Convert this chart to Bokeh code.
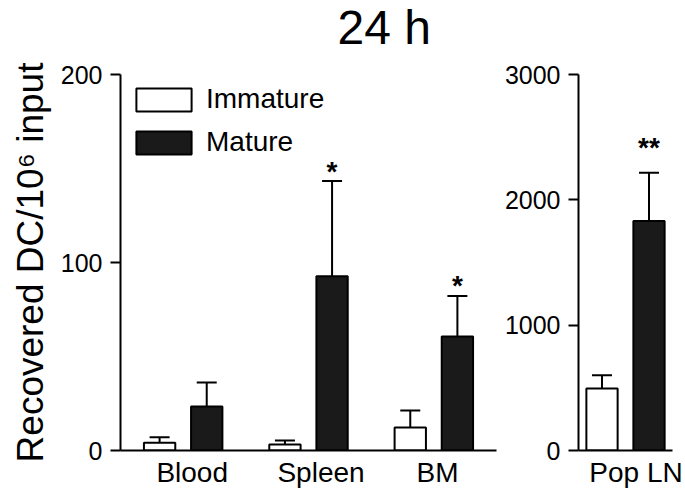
from bokeh.plotting import figure
from bokeh.models import (Range1d, FixedTicker, Whisker, ColumnDataSource, Legend,
                          LegendItem, Title, TeeHead)
from bokeh.layouts import row, column
from bokeh.embed import file_html
from bokeh.resources import INLINE
from bokeh.core.properties import value

# ---------------- data ----------------
categories = ["Blood", "Spleen", "BM"]
immature = [4.1, 3.2, 12.3]
immature_err = [3.0, 2.1, 9.0]
mature = [23.4, 92.7, 60.7]
mature_err = [12.8, 50.6, 21.5]
stars = ["", "*", "*"]

ln_categories = ["Pop LN"]
ln_immature = [494]
ln_immature_err = [106]
ln_mature = [1832]
ln_mature_err = [384]
ln_stars = ["**"]

left_ticks = [0, 100, 200]
right_ticks = [0, 1000, 2000, 3000]

# ---------------- layout / style ----------------
FONT = "Liberation Sans"
BAR_W = 0.25
DODGE = 0.188
TITLE_H = 60
HEIGHT = 496 - TITLE_H


def make_panel(cats, imm, imm_err, mat, mat_err, stars_, ymax, ticks, label_shift,
               width, border_left, border_right, half, star_offset, ylabel=None):
    n = len(cats)
    xs = list(range(n))
    x_imm = [x - DODGE for x in xs]
    x_mat = [x + DODGE for x in xs]
    src = ColumnDataSource(dict(
        x_imm=x_imm, x_mat=x_mat, imm=imm, mat=mat,
        imm_top=[v + e for v, e in zip(imm, imm_err)],
        mat_top=[v + e for v, e in zip(mat, mat_err)],
        stars=stars_,
    ))
    p = figure(width=width, height=HEIGHT, output_backend="svg", toolbar_location=None,
               x_range=Range1d(-half, n - 1 + half), y_range=Range1d(0, ymax),
               min_border_left=border_left, min_border_right=border_right,
               min_border_top=74 - TITLE_H, min_border_bottom=46)
    p.outline_line_color = None
    p.xgrid.visible = False
    p.ygrid.visible = False
    p.background_fill_color = "white"
    p.border_fill_color = "white"

    r_imm = p.vbar(x="x_imm", top="imm", width=BAR_W, source=src,
                   fill_color="white", line_color="black", line_width=2)
    r_mat = p.vbar(x="x_mat", top="mat", width=BAR_W, source=src,
                   fill_color="#1a1a1a", line_color="black", line_width=2)
    for xcol, lo, hi in (("x_imm", "imm", "imm_top"), ("x_mat", "mat", "mat_top")):
        w = Whisker(source=src, base=xcol, lower=lo, upper=hi, dimension="height",
                    line_color="black", line_width=2, lower_head=None,
                    upper_head=TeeHead(size=20, line_color="black", line_width=2))
        p.add_layout(w)
    p.text(x="x_mat", y="mat_top", text="stars", source=src, text_align="center",
           text_baseline="alphabetic", y_offset=star_offset,
           text_font=value(FONT), text_font_size="28px", text_font_style="bold",
           text_color="black")

    # axes
    p.yaxis.ticker = FixedTicker(ticks=ticks)
    p.yaxis.minor_tick_line_color = None
    p.yaxis.major_tick_in = 0
    p.yaxis.major_tick_out = 10
    p.yaxis.major_tick_line_width = 2
    p.yaxis.axis_line_width = 2
    p.yaxis.major_label_standoff = 8
    p.yaxis.major_label_text_font = FONT
    p.yaxis.major_label_text_font_size = "25px"
    p.yaxis.major_label_text_color = "black"

    p.xaxis.ticker = FixedTicker(ticks=[x + s for x, s in zip(xs, label_shift)])
    p.xaxis.major_label_overrides = {x + s: c for x, s, c in zip(xs, label_shift, cats)}
    p.xaxis.minor_tick_line_color = None
    p.xaxis.major_tick_line_color = None
    p.xaxis.major_tick_in = 0
    p.xaxis.major_tick_out = 0
    p.xaxis.axis_line_width = 2
    p.xaxis.major_label_standoff = 6
    p.xaxis.major_label_text_font = FONT
    p.xaxis.major_label_text_font_size = "28px"
    p.xaxis.major_label_text_color = "black"

    if ylabel:
        p.yaxis.axis_label = ylabel
        p.yaxis.axis_label_text_font = FONT
        p.yaxis.axis_label_text_font_size = "37px"
        p.yaxis.axis_label_text_font_style = "normal"
        p.yaxis.axis_label_text_color = "black"
        p.yaxis.axis_label_standoff = 7
    return p, r_imm, r_mat


p1, r_imm, r_mat = make_panel(categories, immature, immature_err, mature, mature_err, stars,
                              200, left_ticks, [0.072, 0.10, 0.03],
                              500, 120, 4, 0.5, -10, ylabel="Recovered DC/10\u2076 input")
p2, _, _ = make_panel(ln_categories, ln_immature, ln_immature_err, ln_mature, ln_mature_err,
                      ln_stars, 3000, right_ticks, [0.084],
                      185, 78, 13, 0.376, -25)

legend = Legend(items=[LegendItem(label="Immature", renderers=[r_imm]),
                       LegendItem(label="Mature", renderers=[r_mat])],
                location="top_left", margin=9, padding=8, spacing=11,
                glyph_width=69, glyph_height=29, label_standoff=8,
                label_text_font=FONT, label_text_font_size="28px",
                label_text_color="black",
                border_line_color=None, background_fill_alpha=0)
p1.add_layout(legend)

# title strip: a frameless figure carrying only the title
tf = figure(width=685, height=TITLE_H, output_backend="svg", toolbar_location=None,
            x_axis_location=None, y_axis_location=None,
            x_range=Range1d(0, 1), y_range=Range1d(0, 1),
            min_border_left=0, min_border_right=0, min_border_top=0, min_border_bottom=0)
tf.grid.visible = False
tf.outline_line_color = None
tf.title = Title(text="24 h", align="left", offset=337, standoff=0, vertical_align="top",
                 text_font=FONT, text_font_size="48px", text_font_style="normal",
                 text_color="black")

layout = column(tf, row(p1, p2))
open("out.html", "w").write(file_html(layout, INLINE))
